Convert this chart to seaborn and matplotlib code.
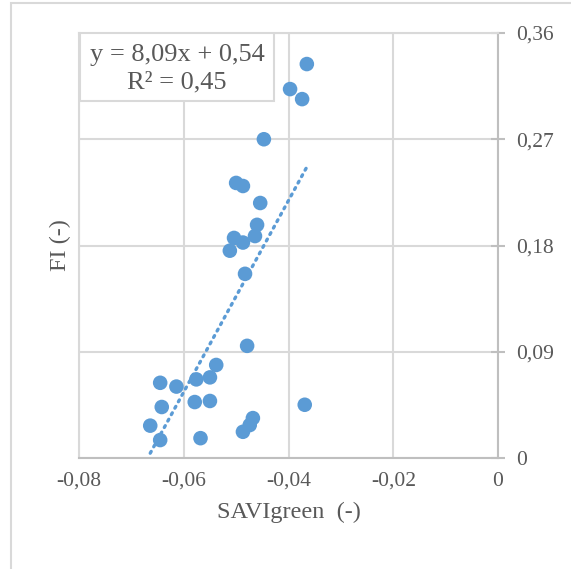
import numpy as np
import pandas as pd
import matplotlib
matplotlib.use("Agg")
import matplotlib.pyplot as plt
import seaborn as sns
from matplotlib.patches import Rectangle
from matplotlib.ticker import FuncFormatter

savi_green = [-0.0365, -0.0397, -0.0374, -0.0447, -0.0500, -0.0487, -0.0454, -0.0460,
              -0.0464, -0.0504, -0.0487, -0.0512, -0.0483, -0.0479, -0.0538, -0.0550,
              -0.0576, -0.0645, -0.0614, -0.0579, -0.0550, -0.0642, -0.0369, -0.0468,
              -0.0474, -0.0487, -0.0664, -0.0645, -0.0568]
fi_values = [0.3337, 0.3125, 0.3040, 0.2700, 0.2330, 0.2304, 0.2160, 0.1975,
             0.1880, 0.1864, 0.1825, 0.1756, 0.1560, 0.0950, 0.0788, 0.0683,
             0.0666, 0.0637, 0.0605, 0.0474, 0.0483, 0.0432, 0.0451, 0.0338,
             0.0279, 0.0222, 0.0274, 0.0152, 0.0168]

x_ticks = [-0.08, -0.06, -0.04, -0.02, 0.0]
y_ticks = [0.0, 0.09, 0.18, 0.27, 0.36]
equation_text = "y = 8,09x + 0,54"
r2_text = "R² = 0,45"
x_label = "SAVIgreen  (-)"
y_label = "FI (-)"

df = pd.DataFrame({"SAVIgreen": savi_green, "FI": fi_values})

sns.set_theme(style="white")
plt.rcParams["font.family"] = ["Liberation Serif", "DejaVu Serif"]

W, H = 571, 569
fig = plt.figure(figsize=(W / 100, H / 100), dpi=100)
fig.patch.set_facecolor("white")

# outer chart border
fig.add_artist(Rectangle((11 / W, -0.1), 1.2, 1 - 3 / H + 0.1, transform=fig.transFigure,
                         fill=False, edgecolor="#d9d9d9", linewidth=1.5))

ax = fig.add_axes([79 / W, (H - 458) / H, 419 / W, 425 / H])
ax.set_facecolor("white")

blue = "#5b9bd5"
text_col = "#595959"

sns.regplot(data=df, x="SAVIgreen", y="FI", ax=ax, scatter=False, ci=None,
            color=blue, line_kws=dict(linestyle=(0, (0.6, 1.6)), linewidth=2.4,
                                      dash_capstyle="round", zorder=3))
sns.scatterplot(data=df, x="SAVIgreen", y="FI", ax=ax, color=blue, s=110,
                edgecolor="none", linewidth=0, zorder=4)

ax.set_xlim(-0.08, 0.0)
ax.set_ylim(0.0, 0.36)
ax.set_xticks(x_ticks)
ax.set_yticks(y_ticks)

def fmt(v, pos):
    if abs(v) < 1e-12:
        return "0"
    s = f"{v:.2f}".replace(".", ",")
    return s

ax.xaxis.set_major_formatter(FuncFormatter(fmt))
ax.yaxis.set_major_formatter(FuncFormatter(fmt))
ax.yaxis.tick_right()
ax.yaxis.set_label_position("left")

ax.grid(True, color="#d9d9d9", linewidth=1.5)
ax.set_axisbelow(True)

for side in ["left", "top"]:
    ax.spines[side].set_color("#d9d9d9")
    ax.spines[side].set_linewidth(1.5)
for side in ["right", "bottom"]:
    ax.spines[side].set_color("#bfbfbf")
    ax.spines[side].set_linewidth(1.5)

ax.tick_params(axis="x", length=0, pad=10, labelsize=15.5, labelcolor=text_col)
ax.tick_params(axis="y", which="major", right=True, left=False, direction="inout",
               length=10, width=1.5, color="#bfbfbf", pad=8, labelsize=15.5,
               labelcolor=text_col)

ax.set_xlabel(x_label, fontsize=17.5, color=text_col, labelpad=8)
ax.set_ylabel(y_label, fontsize=17.5, color=text_col, labelpad=6)

# equation box
ax.add_patch(Rectangle((80, H - 101), 194, 68, transform=None, facecolor="white",
                       edgecolor="#d9d9d9", linewidth=1.5, zorder=5))
fig.text(177 / W, 1 - 55 / H, equation_text, ha="center", va="center",
         fontsize=19, color=text_col, zorder=6)
fig.text(177 / W, 1 - 82 / H, r2_text, ha="center", va="center",
         fontsize=19, color=text_col, zorder=6)

fig.savefig("out.png", dpi=100, facecolor="white")
